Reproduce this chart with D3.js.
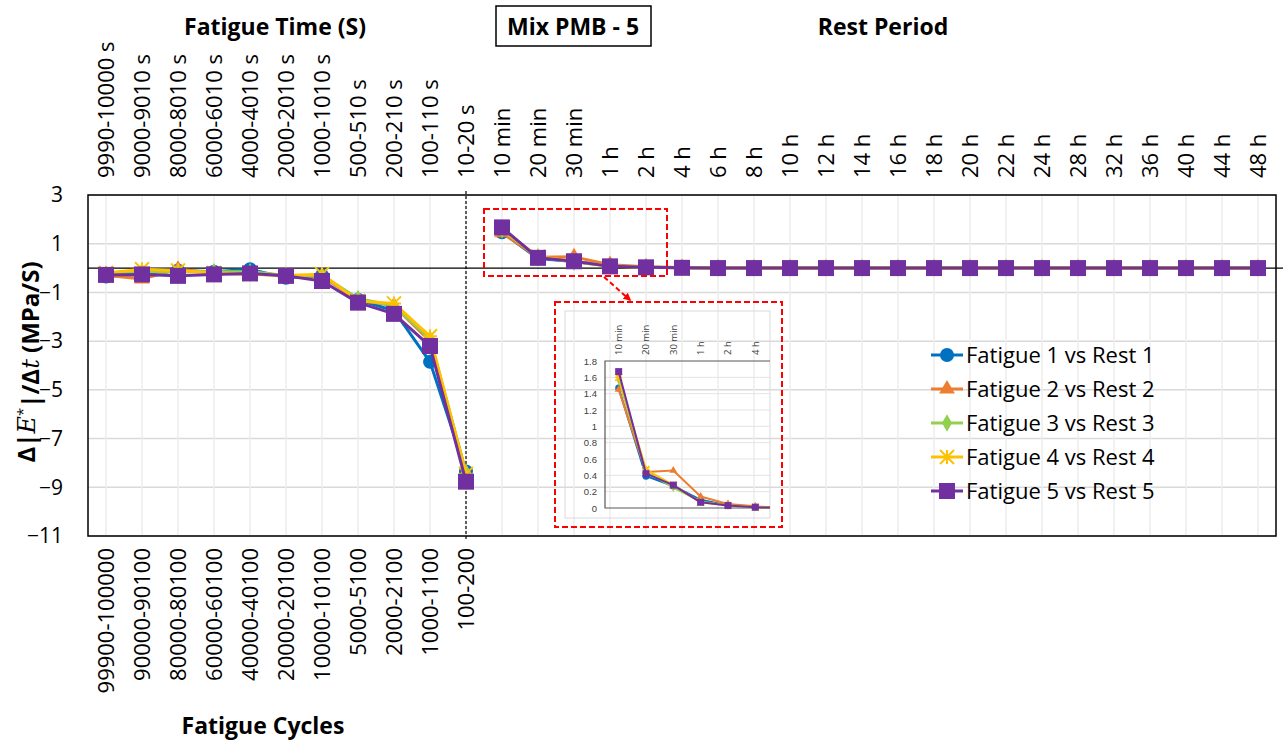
<!DOCTYPE html>
<html>
<head>
<meta charset="utf-8">
<script src="https://cdn.jsdelivr.net/npm/d3@7"></script>
<style>
  body { margin: 0; background: #fff; }
  svg { display: block; font-family: "Open Sans", sans-serif; }
</style>
</head>
<body>
<svg id="chart" width="1284" height="743"></svg>
<script>
// categories
const fatigueTimeLabels = ['9990-10000 s', '9000-9010 s', '8000-8010 s', '6000-6010 s', '4000-4010 s',
    '2000-2010 s', '1000-1010 s', '500-510 s', '200-210 s', '100-110 s', '10-20 s'];
const fatigueCycleLabels = ['99900-100000', '90000-90100', '80000-80100', '60000-60100', '40000-40100',
    '20000-20100', '10000-10100', '5000-5100', '2000-2100', '1000-1100', '100-200'];
const restLabels = ['10 min', '20 min', '30 min', '1 h', '2 h', '4 h', '6 h', '8 h', '10 h', '12 h', '14 h',
    '16 h', '18 h', '20 h', '22 h', '24 h', '28 h', '32 h', '36 h', '40 h', '44 h', '48 h'];
const yTicks = [3, 1, -1, -3, -5, -7, -9, -11];
const insetTicks = [0, 0.2, 0.4, 0.6, 0.8, 1, 1.2, 1.4, 1.6, 1.8];

// series values
const seriesNames = ['Fatigue 1 vs Rest 1', 'Fatigue 2 vs Rest 2', 'Fatigue 3 vs Rest 3',
    'Fatigue 4 vs Rest 4', 'Fatigue 5 vs Rest 5'];
const seriesColors = ['#0070C0', '#ED7D31', '#92D050', '#FFC000', '#7030A0'];
const seriesShapes = ['circle', 'triangle', 'diamond', 'star', 'square'];

const fatigue1 = [-0.35, -0.25, -0.1, -0.15, -0.05, -0.4, -0.3, -1.3, -1.75, -3.85, -8.35];
const fatigue2 = [-0.3, -0.45, -0.05, -0.2, -0.25, -0.3, -0.35, -1.3, -1.55, -3.0, -8.4];
const fatigue3 = [-0.25, -0.15, -0.15, -0.15, -0.15, -0.3, -0.3, -1.25, -1.55, -2.9, -8.4];
const fatigue4 = [-0.2, -0.05, -0.1, -0.2, -0.25, -0.3, -0.25, -1.35, -1.45, -2.8, -8.45];
const fatigue5 = [-0.28, -0.26, -0.32, -0.26, -0.22, -0.32, -0.53, -1.42, -1.88, -3.2, -8.77];

const rest1 = [1.47, 0.39, 0.27, 0.10, 0.03, 0.01, 0, 0, 0, 0, 0, 0, 0, 0, 0, 0, 0, 0, 0, 0, 0, 0];
const rest2 = [1.45, 0.44, 0.46, 0.14, 0.05, 0.02, 0, 0, 0, 0, 0, 0, 0, 0, 0, 0, 0, 0, 0, 0, 0, 0];
const rest3 = [1.57, 0.45, 0.25, 0.08, 0.03, 0.01, 0, 0, 0, 0, 0, 0, 0, 0, 0, 0, 0, 0, 0, 0, 0, 0];
const rest4 = [1.60, 0.47, 0.28, 0.07, 0.03, 0.01, 0, 0, 0, 0, 0, 0, 0, 0, 0, 0, 0, 0, 0, 0, 0, 0];
const rest5 = [1.67, 0.42, 0.28, 0.07, 0.03, 0.01, 0, 0, 0, 0, 0, 0, 0, 0, 0, 0, 0, 0, 0, 0, 0, 0];

const fatigueSeries = [fatigue1, fatigue2, fatigue3, fatigue4, fatigue5];
const restSeries = [rest1, rest2, rest3, rest4, rest5];

const svg = d3.select('#chart');
const plot = {left: 88, right: 1276, top: 195, bottom: 536};

const allLabels = fatigueTimeLabels.concat(restLabels);
const x = d3.scaleBand().domain(allLabels).range([plot.left, plot.right]);
const xc = d => x(d) + x.bandwidth() / 2;
const y = d3.scaleLinear().domain([-11, 3]).range([plot.bottom, plot.top]);

// grid
svg.append('g').selectAll('line').data(yTicks).enter().append('line')
    .attr('x1', plot.left).attr('x2', plot.right)
    .attr('y1', d => y(d)).attr('y2', d => y(d))
    .style('stroke', '#d9d9d9').style('stroke-width', 1.5);
svg.append('g').selectAll('line').data(allLabels).enter().append('line')
    .attr('x1', d => xc(d)).attr('x2', d => xc(d))
    .attr('y1', plot.top).attr('y2', plot.bottom)
    .style('stroke', '#ececec').style('stroke-width', 1.5);

// zero line and divider
svg.append('line').attr('x1', plot.left).attr('x2', plot.right + 7)
    .attr('y1', y(0)).attr('y2', y(0)).style('stroke', '#000').style('stroke-width', 1.3);
svg.append('line').attr('x1', xc('10-20 s')).attr('x2', xc('10-20 s'))
    .attr('y1', plot.top - 4).attr('y2', plot.bottom + 5)
    .style('stroke', '#000').style('stroke-width', 1.2).style('stroke-dasharray', '3,2');

// plot border
svg.append('rect').attr('x', plot.left).attr('y', plot.top)
    .attr('width', plot.right - plot.left).attr('height', plot.bottom - plot.top)
    .style('fill', 'none').style('stroke', '#000').style('stroke-width', 1.5);

// axes
const yAxis = svg.append('g').attr('transform', `translate(${plot.left},0)`)
    .call(d3.axisLeft(y).tickValues(yTicks).tickSize(0).tickPadding(25).tickFormat(d3.format('d')));
yAxis.select('.domain').remove();
yAxis.selectAll('text').style('font-size', '21px').style('fill', '#000').style('font-family', '"Open Sans"');

const topAxis = svg.append('g').attr('transform', 'translate(0,178)')
    .call(d3.axisTop(x).tickSize(0));
topAxis.select('.domain').remove();
topAxis.selectAll('text').attr('transform', 'rotate(-90)').attr('x', 0).attr('y', 0).attr('dy', '0.35em')
    .style('text-anchor', 'start').style('font-size', '22px').style('fill', '#000')
    .style('font-family', '"Open Sans"');

const bottomAxis = svg.append('g').attr('transform', 'translate(0,548)')
    .call(d3.axisBottom(x).tickSize(0).tickValues(fatigueTimeLabels)
        .tickFormat((d, i) => fatigueCycleLabels[i]));
bottomAxis.select('.domain').remove();
bottomAxis.selectAll('text').attr('transform', 'rotate(-90)').attr('x', 0).attr('y', 0).attr('dy', '0.35em')
    .style('text-anchor', 'end').style('font-size', '22px').style('fill', '#000')
    .style('font-family', '"Open Sans"');

// markers
function drawMarker(g, shape, color, s) {
    if (shape === 'star') {
        let h = s / 2;
        g.append('path')
            .attr('d', `M0,${-h}L0,${h}M${-h},${-h}L${h},${h}M${-h},${h}L${h},${-h}M${-h},0L${h},0`)
            .style('stroke', color).style('stroke-width', Math.max(1.5, s / 7)).style('fill', 'none');
        return;
    }
    let type = {circle: d3.symbolCircle, triangle: d3.symbolTriangle,
        diamond: d3.symbolDiamond, square: d3.symbolSquare}[shape];
    let area = {circle: Math.PI * s * s / 4, triangle: s * s * 0.55, diamond: s * s * 0.45, square: s * s}[shape];
    g.append('path').attr('d', d3.symbol().type(type).size(area)())
        .style('fill', color);
}

const line = d3.line().x(d => d.x).y(d => d.y);

function drawSeries(parent, pts, color, shape, lw, ms) {
    parent.append('path').datum(pts).attr('d', line)
        .style('fill', 'none').style('stroke', color).style('stroke-width', lw)
        .style('stroke-linejoin', 'round');
    pts.forEach(p => {
        let g = parent.append('g').attr('transform', `translate(${p.x},${p.y})`);
        drawMarker(g, shape, color, ms);
    });
}

const main = svg.append('g');
seriesNames.forEach((name, i) => {
    let fp = fatigueSeries[i].map((v, j) => ({x: xc(fatigueTimeLabels[j]), y: y(v)}));
    let rp = restSeries[i].map((v, j) => ({x: xc(restLabels[j]), y: y(v)}));
    drawSeries(main, fp, seriesColors[i], seriesShapes[i], 3, i === 4 ? 16 : 14);
    drawSeries(main, rp, seriesColors[i], seriesShapes[i], 3, i === 4 ? 16 : 14);
});

// highlight box and arrow
svg.append('defs').append('marker').attr('id', 'arrow')
    .attr('viewBox', '0 0 10 10').attr('refX', 8).attr('refY', 5)
    .attr('markerWidth', 4).attr('markerHeight', 4).attr('orient', 'auto')
    .append('path').attr('d', 'M0,0L10,5L0,10z').style('fill', '#ff0000');
svg.append('rect').attr('x', 484).attr('y', 209).attr('width', 183).attr('height', 67)
    .style('fill', 'none').style('stroke', '#ff0000').style('stroke-width', 2).style('stroke-dasharray', '6,3');
svg.append('line').attr('x1', 604).attr('y1', 277).attr('x2', 630).attr('y2', 300)
    .attr('marker-end', 'url(#arrow)')
    .style('stroke', '#ff0000').style('stroke-width', 2).style('stroke-dasharray', '5,3');

// inset
const ix = d3.scaleBand().domain(restLabels.slice(0, 7)).range([605, 796.3]);
const ixc = d => ix(d) + ix.bandwidth() / 2;
const iy = d3.scaleLinear().domain([0, 1.8]).range([508, 361]);

svg.append('rect').attr('x', 565).attr('y', 311).attr('width', 205).attr('height', 207)
    .style('fill', 'none').style('stroke', '#d9d9d9').style('stroke-width', 1);
svg.append('rect').attr('x', 555).attr('y', 302).attr('width', 227).attr('height', 225)
    .style('fill', 'none').style('stroke', '#ff0000').style('stroke-width', 2).style('stroke-dasharray', '6,3');

svg.append('defs').append('clipPath').attr('id', 'insetClip')
    .append('rect').attr('x', 605).attr('y', 340).attr('width', 165).attr('height', 178);

const inset = svg.append('g');
inset.selectAll('.ig').data(insetTicks.slice(1, -1)).enter().append('line')
    .attr('x1', 605).attr('x2', 770).attr('y1', d => iy(d)).attr('y2', d => iy(d))
    .style('stroke', '#e3e3e3').style('stroke-width', 1);
inset.append('path').attr('d', 'M770,361H605V508H770')
    .style('fill', 'none').style('stroke', '#595959').style('stroke-width', 1.2);

const iyAxis = inset.append('g').attr('transform', 'translate(605,0)')
    .call(d3.axisLeft(iy).tickValues(insetTicks).tickSize(0).tickPadding(8).tickFormat(d3.format('')));
iyAxis.select('.domain').remove();
iyAxis.selectAll('text').style('font-size', '9.5px').style('fill', '#404040');

inset.append('g').selectAll('text').data(restLabels.slice(0, 6)).enter().append('text')
    .attr('transform', d => `translate(${ixc(d)},355) rotate(-90)`)
    .attr('dy', '0.35em')
    .style('font-size', '9.5px').style('fill', '#404040')
    .text(d => d);

const insetPlot = inset.append('g').attr('clip-path', 'url(#insetClip)');
seriesNames.forEach((name, i) => {
    let pts = restSeries[i].slice(0, 7).map((v, j) => ({x: ixc(restLabels[j]), y: iy(v)}));
    drawSeries(insetPlot, pts, seriesColors[i], seriesShapes[i], 2, 7);
});

// legend
const legend = svg.append('g');
seriesNames.forEach((name, i) => {
    let ly = 355 + i * 34;
    legend.append('line').attr('x1', 931).attr('x2', 963).attr('y1', ly).attr('y2', ly)
        .style('stroke', seriesColors[i]).style('stroke-width', 3);
    let g = legend.append('g').attr('transform', `translate(947,${ly})`);
    drawMarker(g, seriesShapes[i], seriesColors[i], i === 4 ? 16 : 14);
    legend.append('text').attr('x', 966).attr('y', ly).attr('dy', '0.35em')
        .style('font-size', '22px').text(name);
});

// titles
svg.append('text').attr('x', 275).attr('y', 35).attr('text-anchor', 'middle')
    .style('font-size', '23px').style('font-weight', 'bold').text('Fatigue Time (S)');
svg.append('rect').attr('x', 496).attr('y', 6).attr('width', 155).attr('height', 40)
    .style('fill', 'none').style('stroke', '#000').style('stroke-width', 1.5);
svg.append('text').attr('x', 573).attr('y', 35).attr('text-anchor', 'middle')
    .style('font-size', '23px').style('font-weight', 'bold').text('Mix PMB - 5');
svg.append('text').attr('x', 883).attr('y', 35).attr('text-anchor', 'middle')
    .style('font-size', '23px').style('font-weight', 'bold').text('Rest Period');
svg.append('text').attr('x', 263).attr('y', 734).attr('text-anchor', 'middle')
    .style('font-size', '23px').style('font-weight', 'bold').text('Fatigue Cycles');

const yt = svg.append('text').attr('transform', 'translate(35,362) rotate(-90)')
    .attr('text-anchor', 'middle').style('font-size', '24px').style('font-weight', 'bold');
yt.append('tspan').text('Δ|');
yt.append('tspan').style('font-family', '"DejaVu Serif", serif').style('font-style', 'italic')
    .style('font-weight', 'normal').text('E');
yt.append('tspan').attr('dy', '-0.45em').style('font-size', '15px').style('font-weight', 'normal').text('*');
yt.append('tspan').attr('dy', '0.45em').text('|/Δ');
yt.append('tspan').style('font-family', '"DejaVu Serif", serif').style('font-style', 'italic')
    .style('font-weight', 'normal').text('t');
yt.append('tspan').text(' (MPa/S)');
</script>
</body>
</html>
